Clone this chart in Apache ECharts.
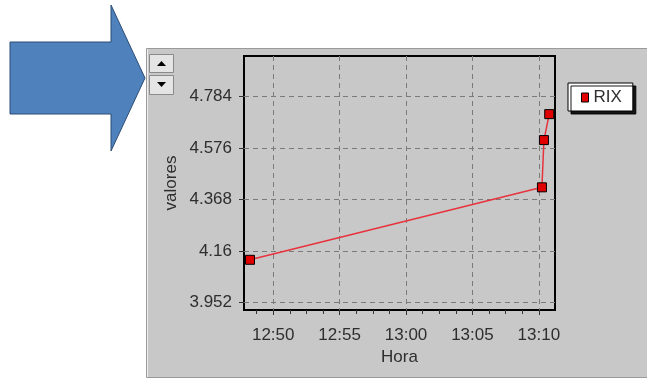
<!DOCTYPE html>
<html><head><meta charset="utf-8">
<script src="https://cdn.jsdelivr.net/npm/echarts@6/dist/echarts.min.js"></script>
<style>html,body{margin:0;padding:0;background:#fff}#c{width:647px;height:381px}</style>
</head><body><div id="c"></div>
<script>
const seriesName = "RIX";
const times = ["12:48:15", "13:10:14", "13:10:23", "13:10:47"];
const values = [4.124, 4.417, 4.608, 4.713];
const xTickLabels = ["12:50", "12:55", "13:00", "13:05", "13:10"];
const yTickLabels = ["3.952", "4.16", "4.368", "4.576", "4.784"];
const xRange = ["12:47:48", "13:11:13"];
const yRange = [3.921, 4.948];
const xMinorStepSec = 75;
const xAxisName = "Hora";
const yAxisName = "valores";

function toSec(s) { const p = s.split(':').map(Number); return p[0] * 3600 + p[1] * 60 + (p[2] || 0); }
const xMin = toSec(xRange[0]), xMax = toSec(xRange[1]);
const xMajor = xTickLabels.map(toSec);
const xMinor = [];
for (let v = xMajor[0] - 4 * xMinorStepSec; v <= xMajor[xMajor.length - 1] + 4 * xMinorStepSec; v += xMinorStepSec) {
  if (v > xMin && v < xMax) xMinor.push(v);
}
const yMajor = yTickLabels.map(Number);
const FONT = '"Liberation Sans", Arial, sans-serif';
const TXT = '#2e2e2e';

const chart = echarts.init(document.getElementById('c'), null, { renderer: 'canvas' });
chart.setOption({
  animation: false,
  backgroundColor: '#ffffff',
  textStyle: { fontFamily: FONT },
  graphic: [
    { type: 'rect', z: -5, shape: { x: 146.5, y: 48.5, width: 510, height: 329 },
      style: { fill: '#c8c8c8', stroke: '#9a9a9a', lineWidth: 1 } },
    { type: 'line', z: -4, shape: { x1: 147.5, y1: 49, x2: 147.5, y2: 377 }, style: { stroke: '#eeeeee', lineWidth: 1 } },
    { type: 'rect', z: 5, shape: { x: 149.5, y: 54.5, width: 24, height: 18 },
      style: { fill: '#e4e4e4', stroke: '#8a8a8a', lineWidth: 1 } },
    { type: 'polygon', z: 6, shape: { points: [[157, 66], [166, 66], [161.5, 61]] }, style: { fill: '#000' } },
    { type: 'rect', z: 5, shape: { x: 149.5, y: 75.5, width: 24, height: 19 },
      style: { fill: '#e4e4e4', stroke: '#8a8a8a', lineWidth: 1 } },
    { type: 'polygon', z: 6, shape: { points: [[157, 82], [166, 82], [161.5, 87]] }, style: { fill: '#000' } },
    { type: 'polygon', z: 100, shape: { points: [[10, 42], [111, 42], [111, 5], [145, 78], [111, 151], [111, 114], [10, 114]] },
      style: { fill: '#4f81bd', stroke: '#2c4d75', lineWidth: 1 } }
  ],
  grid: { left: 244, right: 92, top: 56, bottom: 71, show: true, backgroundColor: '#c8c8c8', borderColor: '#000', borderWidth: 2, containLabel: false },
  legend: {
    left: 568, top: 83, orient: 'vertical',
    data: [seriesName],
    backgroundColor: '#ffffff', borderColor: '#000', borderWidth: 1,
    shadowColor: 'rgba(0,0,0,0.9)', shadowOffsetX: 3, shadowOffsetY: 3, shadowBlur: 0,
    padding: [6, 11, 5, 13],
    itemWidth: 7, itemHeight: 9,
    icon: 'rect',
    itemStyle: { color: '#e00000', borderColor: '#000', borderWidth: 1 },
    textStyle: { fontSize: 17, color: TXT, fontFamily: FONT }
  },
  xAxis: [{
    type: 'value', min: xMin, max: xMax,
    name: xAxisName, nameLocation: 'middle', nameGap: 39,
    nameTextStyle: { fontSize: 17, color: TXT, fontFamily: FONT },
    axisLine: { show: false },
    axisTick: { show: true, customValues: xMajor, length: 5, lineStyle: { color: '#333' } },
    axisLabel: { customValues: xMajor, margin: 17, fontSize: 17, color: TXT, fontFamily: FONT,
      formatter: v => xTickLabels[xMajor.indexOf(v)] || '' },
    splitLine: { show: true, lineStyle: { color: '#7a7a7a', type: [5, 4], width: 1 } },
    minorTick: { show: false }
  }, {
    type: 'value', min: xMin, max: xMax, position: 'bottom',
    axisLine: { show: false },
    axisTick: { show: true, customValues: xMinor, length: 4, lineStyle: { color: '#333' } },
    axisLabel: { show: false },
    splitLine: { show: false }
  }],
  yAxis: {
    type: 'value', min: yRange[0], max: yRange[1],
    name: yAxisName, nameLocation: 'middle', nameGap: 64, nameRotate: 90,
    nameTextStyle: { fontSize: 17, color: TXT, fontFamily: FONT },
    axisLine: { show: false },
    axisTick: { show: true, customValues: yMajor, length: 5, lineStyle: { color: '#333' } },
    axisLabel: { customValues: yMajor, margin: 12, fontSize: 17, color: TXT, fontFamily: FONT,
      formatter: v => { const i = yMajor.findIndex(m => Math.abs(m - v) < 1e-6); return i >= 0 ? yTickLabels[i] : ''; } },
    splitLine: { show: true, lineStyle: { color: '#7a7a7a', type: [5, 4], width: 1 } }
  },
  series: [{
    name: seriesName, type: 'line', xAxisIndex: 0,
    data: times.map((t, i) => [toSec(t), values[i]]),
    symbol: 'rect', symbolSize: 9,
    lineStyle: { color: '#e8323c', width: 1.5 },
    itemStyle: { color: '#e00000', borderColor: '#000', borderWidth: 1 },
    z: 10
  }]
});
</script></body></html>
